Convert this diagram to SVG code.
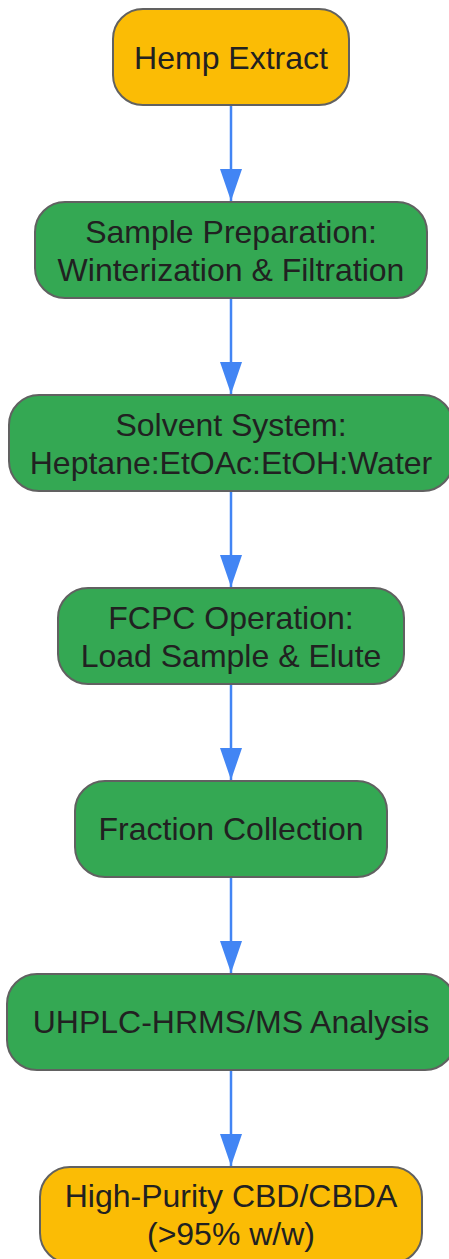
<svg xmlns="http://www.w3.org/2000/svg" width="449" height="1259" viewBox="0 0 449 1259">
<style>
.n rect{stroke:#616161;stroke-width:2}
.y rect{fill:#FBBC05}
.g rect{fill:#34A853}
text{font-family:"Liberation Sans",Arial,sans-serif;font-size:32px;fill:#212121;text-anchor:middle}
.c line{stroke:#4285F4;stroke-width:2.5}
</style>
<defs>
<marker id="ah" markerUnits="userSpaceOnUse" markerWidth="34" markerHeight="24" refX="32" refY="11" orient="auto">
<path d="M0,0 L32,11 L0,22 Z" fill="#4285F4"/>
</marker>
</defs>
<g class="c" id="connectors">
<line x1="231" y1="105" x2="231" y2="201" marker-end="url(#ah)"/>
<line x1="231" y1="298" x2="231" y2="394" marker-end="url(#ah)"/>
<line x1="231" y1="491" x2="231" y2="587" marker-end="url(#ah)"/>
<line x1="231" y1="684" x2="231" y2="780" marker-end="url(#ah)"/>
<line x1="231" y1="877" x2="231" y2="973" marker-end="url(#ah)"/>
<line x1="231" y1="1070" x2="231" y2="1166" marker-end="url(#ah)"/>
</g>
<g id="n1" class="n y"><rect x="113" y="9" width="236" height="96" rx="30"/><text x="231" y="69">Hemp Extract</text></g>
<g id="n2" class="n g"><rect x="35" y="202" width="392" height="96" rx="30"/><text x="231" y="243">Sample Preparation:</text><text x="231" y="281">Winterization &amp; Filtration</text></g>
<g id="n3" class="n g"><rect x="9" y="395" width="444" height="96" rx="30"/><text x="231" y="436">Solvent System:</text><text x="231" y="474">Heptane:EtOAc:EtOH:Water</text></g>
<g id="n4" class="n g"><rect x="58" y="588" width="346" height="96" rx="30"/><text x="231" y="629">FCPC Operation:</text><text x="231" y="667">Load Sample &amp; Elute</text></g>
<g id="n5" class="n g"><rect x="75" y="781" width="312" height="96" rx="30"/><text x="231" y="840">Fraction Collection</text></g>
<g id="n6" class="n g"><rect x="7" y="974" width="448" height="96" rx="30"/><text x="231" y="1033">UHPLC-HRMS/MS Analysis</text></g>
<g id="n7" class="n y"><rect x="40" y="1167" width="382" height="96" rx="30"/><text x="231" y="1207">High-Purity CBD/CBDA</text><text x="231" y="1245">(&gt;95% w/w)</text></g>
</svg>
